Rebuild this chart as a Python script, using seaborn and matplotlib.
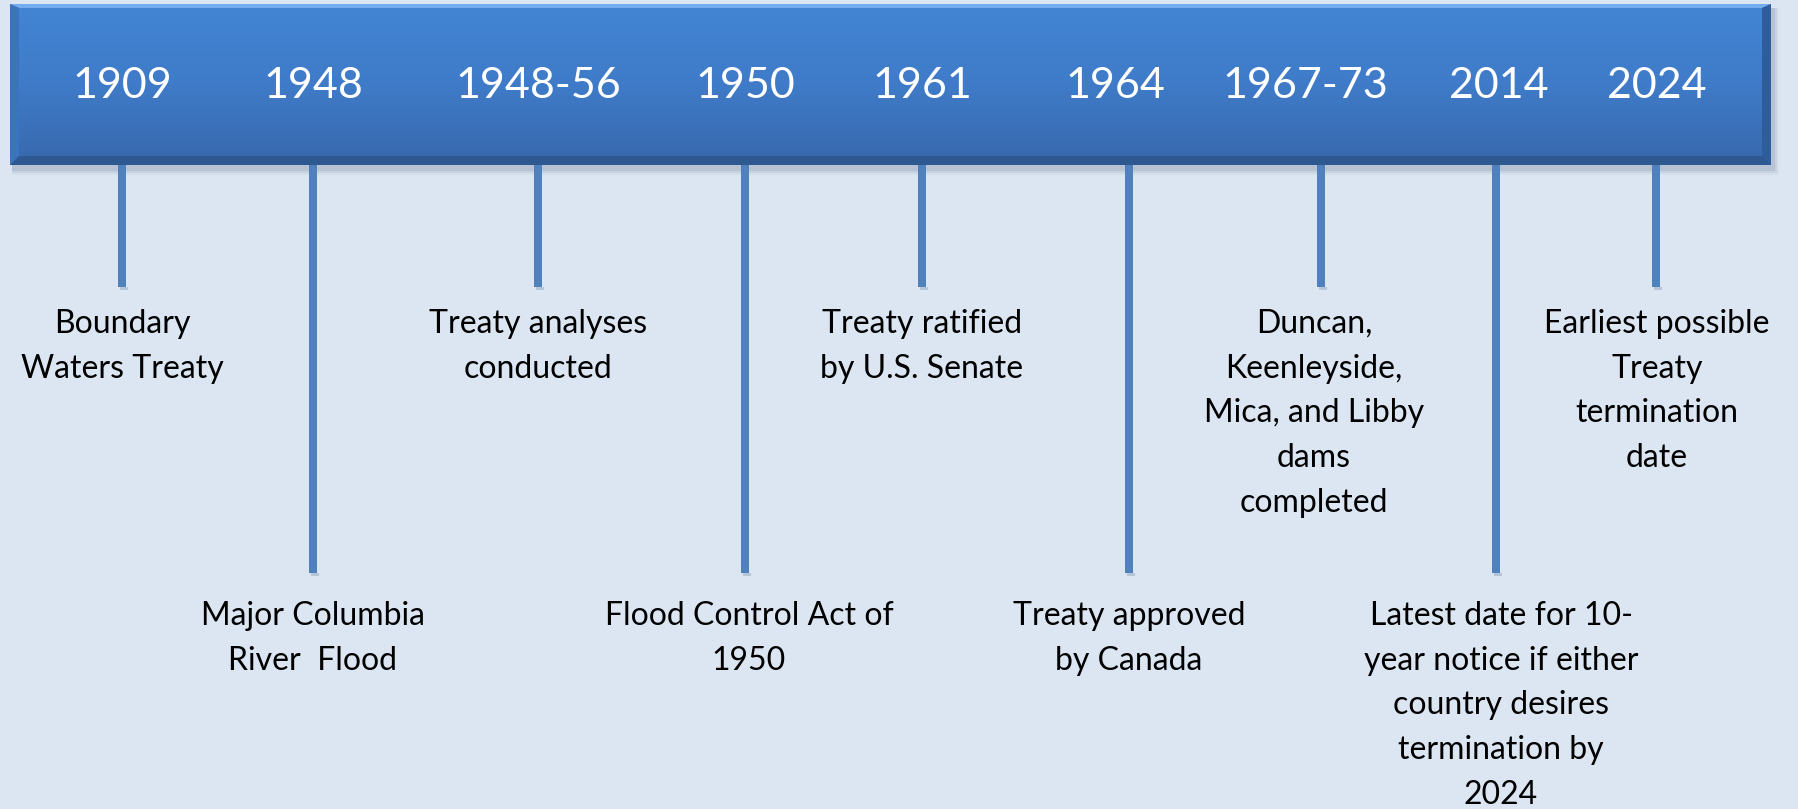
import numpy as np
import pandas as pd
import matplotlib
matplotlib.use("Agg")
import matplotlib.pyplot as plt
from matplotlib.patches import Rectangle, Polygon
import seaborn as sns

# timeline data
years = ["1909", "1948", "1948-56", "1950", "1961", "1964", "1967-73", "2014", "2024"]
events = [
    "Boundary\nWaters Treaty",
    "Major Columbia\nRiver  Flood",
    "Treaty analyses\nconducted",
    "Flood Control Act of\n1950",
    "Treaty ratified\nby U.S. Senate",
    "Treaty approved\nby Canada",
    "Duncan,\nKeenleyside,\nMica, and Libby\ndams\ncompleted",
    "Latest date for 10-\nyear notice if either\ncountry desires\ntermination by\n2024",
    "Earliest possible\nTreaty\ntermination\ndate",
]
stem_level = ["short", "long", "short", "long", "short", "long", "short", "long", "short"]

# layout (pixel space)
W, H = 1798, 809
year_x = [122, 313, 538, 745, 922, 1115, 1305, 1499, 1657]
stem_x = [122, 313, 538, 745, 922, 1129, 1321, 1496, 1656]
label_x = [122, 313, 538, 749, 922, 1129, 1314, 1501, 1657]
bar_left, bar_right, bar_top, bar_bot = 10, 1771, 4, 165
stem_len = {"short": 287, "long": 573}
label_top = {"short": 324, "long": 616}
line_gap = 44.7

df = pd.DataFrame({"year": years, "event": events, "level": stem_level,
                   "stem_x": stem_x, "year_x": year_x, "label_x": label_x})
df["stem_end"] = df["level"].map(stem_len)

sns.set_theme(style="white")
plt.rcParams["font.family"] = ["Lato", "DejaVu Sans"]

bg = "#DCE6F2"
fig = plt.figure(figsize=(W / 100, H / 100), dpi=100, facecolor=bg)
ax = fig.add_axes([0, 0, 1, 1])
ax.set_facecolor(bg)
ax.set_xlim(0, W)
ax.set_ylim(H, 0)
ax.axis("off")

# shadow under the bar
for i, a in enumerate([0.10, 0.07, 0.04]):
    ax.add_patch(Rectangle((bar_left + 2, bar_top + 4), bar_right - bar_left + 2 + i * 2,
                           bar_bot - bar_top + 2 + i * 2, color="#1F3A60", alpha=a, lw=0, zorder=1))

# main bar with vertical gradient
grad = np.linspace(0, 1, 256).reshape(-1, 1)
cmap = matplotlib.colors.LinearSegmentedColormap.from_list("bar", ["#4385D4", "#3F7BC8", "#3868AC"])
ax.imshow(grad, cmap=cmap, extent=(bar_left, bar_right, bar_bot, bar_top), aspect="auto", zorder=2)

# bevel edges
b = 9
ax.add_patch(Polygon([(bar_left, bar_top), (bar_right, bar_top), (bar_right - b, bar_top + 4),
                      (bar_left + b, bar_top + 4)], color="#74ADEE", lw=0, zorder=3))
ax.add_patch(Polygon([(bar_left, bar_top), (bar_left + b, bar_top + 4), (bar_left + b, bar_bot - b),
                      (bar_left, bar_bot)], color="#3A73BE", lw=0, zorder=3))
ax.add_patch(Polygon([(bar_right, bar_top), (bar_right, bar_bot), (bar_right - b, bar_bot - b),
                      (bar_right - b, bar_top + 4)], color="#2F5C9A", lw=0, zorder=3))
ax.add_patch(Polygon([(bar_left, bar_bot), (bar_left + b, bar_bot - b), (bar_right - b, bar_bot - b),
                      (bar_right, bar_bot)], color="#2D5890", lw=0, zorder=3))

# stems
ax.bar(df["stem_x"], df["stem_end"] - bar_bot, bottom=bar_bot, width=8,
       color="#4F81BD", linewidth=0, zorder=1.5)
ax.bar(df["stem_x"] + 2, 3, bottom=df["stem_end"], width=8, color="#9FAFC4",
       alpha=0.6, linewidth=0, zorder=1.4)

# year labels
for _, r in df.iterrows():
    ax.text(r["year_x"], 86, r["year"], color="white", fontsize=31,
            ha="center", va="center", zorder=5)

# event labels
for _, r in df.iterrows():
    y0 = label_top[r["level"]]
    for i, line in enumerate(r["event"].split("\n")):
        ax.text(r["label_x"], y0 + i * line_gap, line, color="black", fontsize=23,
                ha="center", va="center", zorder=5)

fig.savefig("out.png", dpi=100, facecolor=bg)
